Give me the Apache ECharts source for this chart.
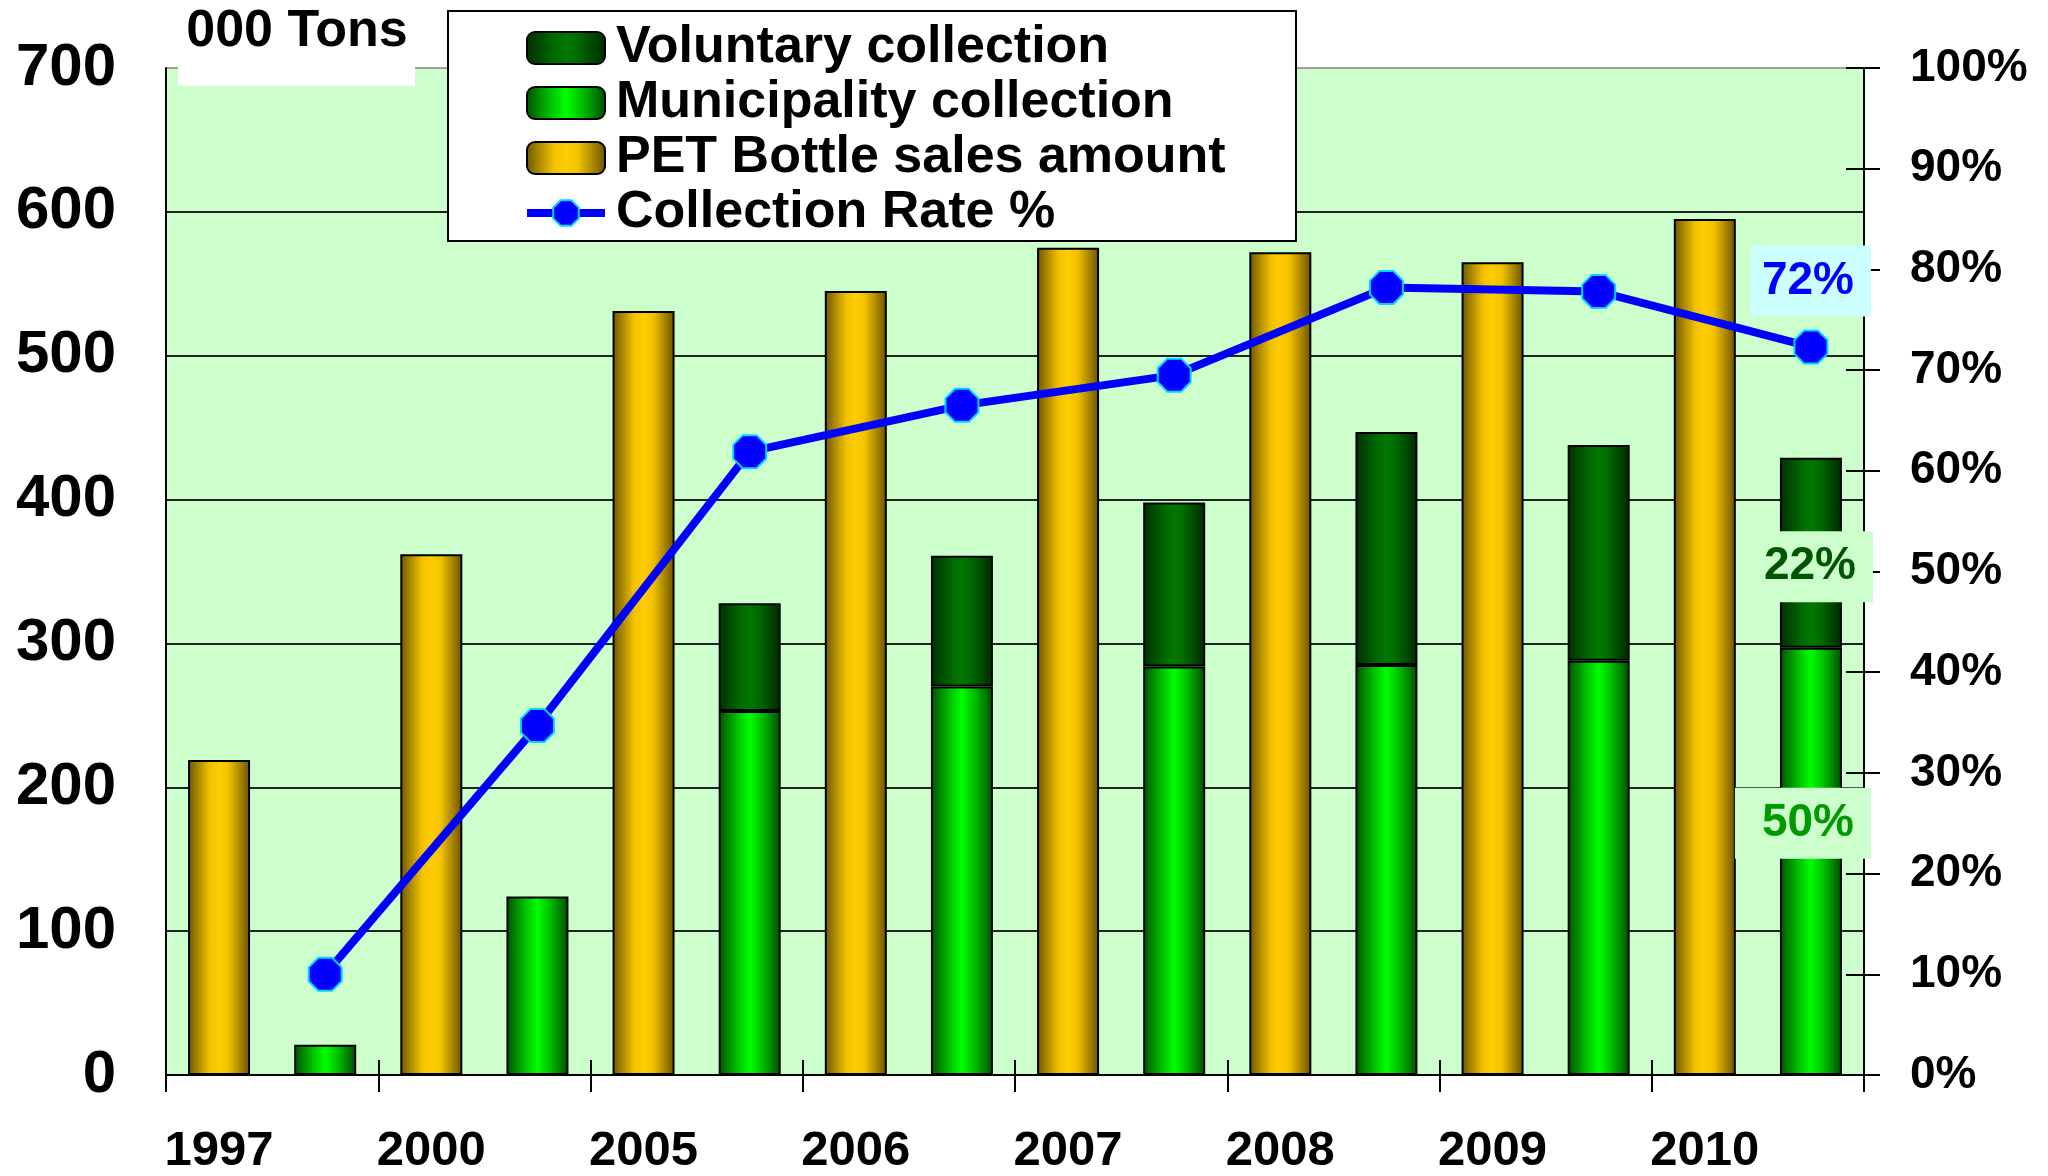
<!DOCTYPE html>
<html><head><meta charset="utf-8">
<script src="https://cdn.jsdelivr.net/npm/echarts@6/dist/echarts.min.js"></script>
<style>html,body{margin:0;padding:0;background:#fff}#c{width:2048px;height:1176px}</style>
</head><body><div id="c"></div>
<script>
// ---- data ----
const years = ['1997', '2000', '2005', '2006', '2007', '2008', '2009', '2010'];
const salesAmount = [219, 362, 531, 545, 575, 572, 565, 595];
const municipalityCollection = [21, 124, 253, 270, 284, 285, 288, 297];
const voluntaryCollection = [0, 0, 75, 91, 114, 162, 150, 132];
const collectionRate = [10, 34.7, 61.9, 66.5, 69.5, 78.2, 77.8, 72.3];
const seriesNames = ['Voluntary collection', 'Municipality collection', 'PET Bottle sales amount', 'Collection Rate %'];
const unitLabel = '000 Tons';

const FONT = "'Liberation Sans', Arial, sans-serif";
const last = years.length - 1;
const volShare = Math.round(voluntaryCollection[last] / salesAmount[last] * 100) + '%';
const munShare = Math.round(municipalityCollection[last] / salesAmount[last] * 100) + '%';

// two slots per year: sales slot, collection slot
const slots = [], salesData = [], munData = [], volData = [], rateData = [];
years.forEach((y, i) => {
  slots.push(y, y + ' collection');
  salesData.push(salesAmount[i], '-');
  if (i === last) {
    munData.push('-', {value: municipalityCollection[i], label: {
      show: true, position: 'inside', offset: [-8, -38], formatter: munShare,
      color: '#009900', fontSize: 46, fontWeight: 'bold', fontFamily: FONT, lineHeight: 46,
      backgroundColor: '#ccffcc', padding: [13, 17, 12, 27]}});
    volData.push('-', {value: voluntaryCollection[i], label: {
      show: true, position: 'inside', offset: [2, 14], formatter: volShare,
      color: '#005500', fontSize: 46, fontWeight: 'bold', fontFamily: FONT, lineHeight: 46,
      backgroundColor: '#ccffcc', padding: [13, 17, 12, 11]}});
    rateData.push('-', {value: collectionRate[i], label: {
      show: true, position: 'top', distance: 13,
      formatter: p => Math.round(p.value) + '%',
      color: '#0000ff', fontSize: 46, fontWeight: 'bold', fontFamily: FONT, lineHeight: 46,
      backgroundColor: '#ccffff', padding: [13, 17, 12, 11]}});
  } else {
    munData.push('-', municipalityCollection[i]);
    volData.push('-', voluntaryCollection[i] > 0 ? voluntaryCollection[i] : '-');
    rateData.push('-', collectionRate[i]);
  }
});

function hGrad(stops) {
  return new echarts.graphic.LinearGradient(0, 0, 1, 0, stops.map(s => ({offset: s[0], color: s[1]})));
}
const goldGrad = hGrad([[0, '#6e5600'], [0.35, '#f2c200'], [0.5, '#ffcc00'], [0.65, '#f2c200'], [1, '#6a5200']]);
const limeGrad = hGrad([[0, '#005000'], [0.3, '#00c000'], [0.5, '#00ff00'], [0.7, '#00c000'], [1, '#004c00']]);
const darkGrad = hGrad([[0, '#002e00'], [0.35, '#006a00'], [0.5, '#007800'], [0.65, '#006a00'], [1, '#002800']]);

const chart = echarts.init(document.getElementById('c'));
chart.setOption({
  animation: false,
  backgroundColor: '#ffffff',
  textStyle: {fontFamily: FONT},
  grid: {left: 166, right: 184, top: 68, bottom: 100, show: true, backgroundColor: '#ccffcc', borderWidth: 0},
  graphic: [
    {type: 'rect', shape: {x: 178, y: 0, width: 237, height: 86}, style: {fill: '#ffffff'}, z: 3},
    {type: 'text', x: 297, y: 32, z: 4, style: {text: unitLabel, fill: '#000', align: 'center', verticalAlign: 'middle',
      font: 'bold 52px ' + FONT}},
    {type: 'rect', shape: {x: 448, y: 11, width: 848, height: 230}, style: {fill: '#ffffff', stroke: '#000', lineWidth: 2}, z: 5}
  ],
  legend: {
    data: seriesNames, orient: 'vertical', left: 523, top: 22, padding: 0, z: 10,
    itemWidth: 78, itemHeight: 32, itemGap: 3,
    lineStyle: {width: 8},
    textStyle: {fontSize: 52, fontWeight: 'bold', fontFamily: FONT, color: '#000', lineHeight: 50, padding: [0, 0, 0, 6]}
  },
  xAxis: [{
    type: 'category', data: slots, boundaryGap: true, position: 'bottom',
    axisLine: {lineStyle: {color: '#000', width: 2}},
    axisTick: {show: true, interval: 1, length: 17, lineStyle: {color: '#000', width: 2}},
    axisLabel: {interval: 1, margin: 52, color: '#000', fontSize: 49, fontWeight: 'bold', fontFamily: FONT},
    splitLine: {show: false}
  }, {
    type: 'category', data: slots, boundaryGap: true, position: 'bottom',
    axisLine: {show: false},
    axisTick: {show: true, inside: true, interval: 1, length: 15, lineStyle: {color: '#000', width: 2}},
    axisLabel: {show: false}, splitLine: {show: false}
  }],
  yAxis: [{
    type: 'value', min: 0, max: 700, interval: 100, position: 'left',
    axisLine: {show: true, lineStyle: {color: '#000', width: 2}},
    axisTick: {show: false},
    axisLabel: {margin: 50, color: '#000', fontSize: 60, fontWeight: 'bold', fontFamily: FONT},
    splitLine: {show: true, lineStyle: {width: 2, color: ['#222', '#222', '#222', '#222', '#222', '#222', '#222', '#a0a0a0']}}
  }, {
    type: 'value', min: 0, max: 100, interval: 10, position: 'right',
    axisLine: {show: true, lineStyle: {color: '#000', width: 2}},
    axisTick: {show: true, length: 16, lineStyle: {color: '#000', width: 2}},
    axisLabel: {margin: 46, formatter: '{value}%', color: '#000', fontSize: 46, fontWeight: 'bold', fontFamily: FONT},
    splitLine: {show: false}
  }, {
    type: 'value', min: 0, max: 100, interval: 10, position: 'right',
    axisLine: {show: false},
    axisTick: {show: true, inside: true, length: 18, lineStyle: {color: '#000', width: 2}},
    axisLabel: {show: false}, splitLine: {show: false}
  }],
  series: [{
    name: seriesNames[1], type: 'bar', stack: 'a', barWidth: 62, data: munData, z: 3,
    itemStyle: {color: limeGrad, borderColor: '#000', borderWidth: 2}
  }, {
    name: seriesNames[0], type: 'bar', stack: 'a', barWidth: 62, data: volData, z: 3,
    itemStyle: {color: darkGrad, borderColor: '#000', borderWidth: 2}
  }, {
    name: seriesNames[2], type: 'bar', stack: 'a', barWidth: 62, data: salesData, z: 3,
    itemStyle: {color: goldGrad, borderColor: '#000', borderWidth: 2}
  }, {
    name: seriesNames[3], type: 'line', yAxisIndex: 1, data: rateData, connectNulls: true, z: 6,
    lineStyle: {color: '#0000ff', width: 8},
    symbol: 'path://M29,0L71,0L100,29L100,71L71,100L29,100L0,71L0,29Z', symbolSize: 33,
    itemStyle: {color: '#0000ff', borderColor: '#00d8ff', borderWidth: 2}
  }]
});
</script></body></html>
